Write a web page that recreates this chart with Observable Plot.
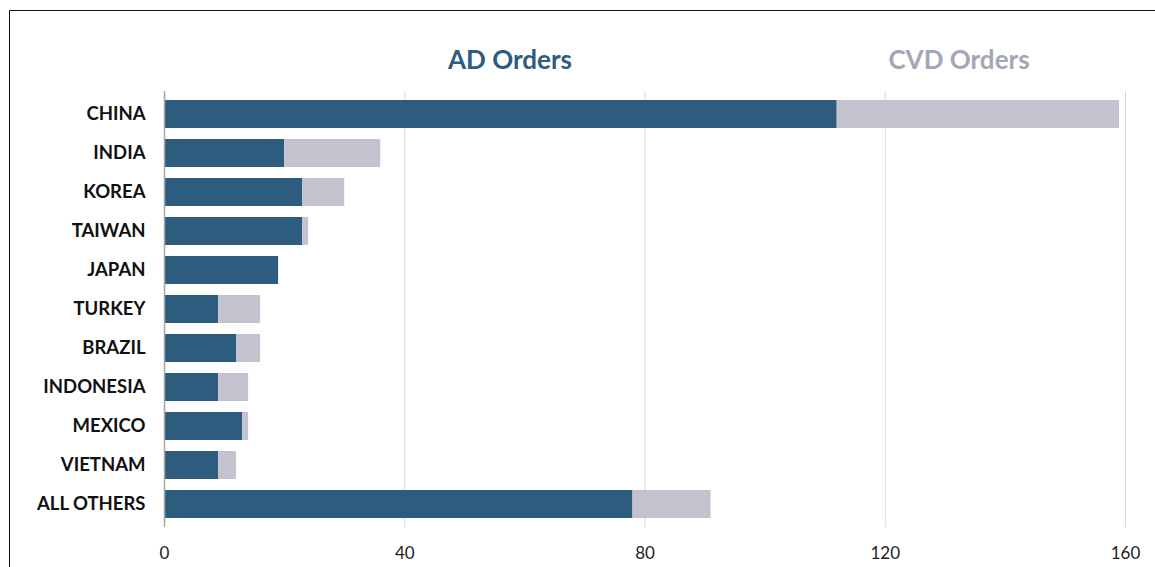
<!DOCTYPE html>
<html>
<head>
<meta charset="utf-8">
<script src="https://cdn.jsdelivr.net/npm/d3@7"></script>
<script src="https://cdn.jsdelivr.net/npm/@observablehq/plot@0.6"></script>
<style>
  html, body { margin: 0; padding: 0; background: #fff; overflow: hidden; }
  #wrap { position: relative; width: 1155px; height: 567px; }
  #frame { position: absolute; left: 9px; top: 10px; width: 1160px; height: 600px; border: 1.5px solid #111; box-sizing: border-box; }
  .ttl { position: absolute; top: 43px; font-family: Lato, "Open Sans", sans-serif; font-weight: 700; font-size: 26px; transform: translateX(-50%); white-space: nowrap; }
  #chart { position: absolute; left: 0; top: 0; line-height: 0; }
  #chart svg { display: block; }
</style>
</head>
<body>
<div id="wrap">
  <div id="frame"></div>
  <div id="chart"></div>
  <div class="ttl" id="t1" style="left:510px;color:#2e5b7e">AD Orders</div>
  <div class="ttl" id="t2" style="left:959px;color:#a5a5b8">CVD Orders</div>
</div>
<script>
const countries = ["CHINA","INDIA","KOREA","TAIWAN","JAPAN","TURKEY","BRAZIL","INDONESIA","MEXICO","VIETNAM","ALL OTHERS"];
const adOrders  = [112, 20, 23, 23, 19, 9, 12, 9, 13, 9, 78];
const cvdOrders = [47, 16, 7, 1, 0, 7, 4, 5, 1, 3, 13];
const xTicks = [0, 40, 80, 120, 160];
const seriesNames = ["AD Orders", "CVD Orders"];
const seriesColors = ["#2d5c7f", "#c3c3cf"];

const rows = [];
countries.forEach((c, i) => {
  rows.push({country: c, type: seriesNames[0], value: adOrders[i], order: 0});
  rows.push({country: c, type: seriesNames[1], value: cvdOrders[i], order: 1});
});

const plot = Plot.plot({
  width: 1155,
  height: 567,
  marginTop: 91,
  marginBottom: 40,
  marginLeft: 164,
  marginRight: 30,
  style: {fontFamily: "Lato, 'Open Sans', sans-serif", background: "transparent", overflow: "visible"},
  x: {domain: [0, 160], ticks: xTicks, label: null, tickSize: 0},
  y: {domain: countries, label: null, tickSize: 0, paddingInner: 0.29, paddingOuter: 0.15},
  color: {domain: seriesNames, range: seriesColors},
  marks: [
    Plot.gridX(xTicks.slice(1), {stroke: "#d9d9d9", strokeOpacity: 1, strokeWidth: 1}),
    Plot.barX(rows, Plot.stackX({x: "value", y: "country", fill: "type", order: "order"})),
    Plot.ruleX([0], {stroke: "#a6a6a6", strokeWidth: 1.5}),
    Plot.axisX({ticks: xTicks, tickSize: 0, tickPadding: 19, fontSize: 17, fill: "#222", label: null}),
    Plot.axisY({tickSize: 0, tickPadding: 19, fontSize: 18.5, fontWeight: 700, fill: "#111", label: null})
  ]
});
document.getElementById("chart").appendChild(plot);
</script>
</body>
</html>
